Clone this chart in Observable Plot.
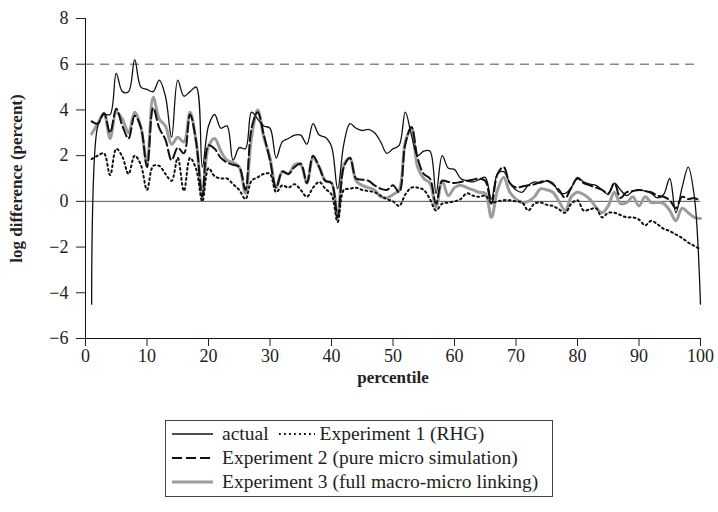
<!DOCTYPE html>
<html>
<head>
<meta charset="utf-8">
<script src="https://cdn.jsdelivr.net/npm/d3@7"></script>
<script src="https://cdn.jsdelivr.net/npm/@observablehq/plot@0.6"></script>
<style>
  html, body { margin: 0; padding: 0; background: #fff; }
  #wrap { position: relative; width: 718px; height: 512px; font-family: "Liberation Serif", "DejaVu Serif", serif; color: #222; }
  #chart svg { display: block; }
  g[aria-label="x-axis label"] text, g[aria-label="y-axis label"] text { font-weight: bold; font-size: 17px; }
  #legend { position: absolute; left: 165px; top: 420px; width: 388px; height: 77px; border: 1px solid #444; box-sizing: border-box; font-size: 19.5px; }
  .row { position: absolute; left: 0; height: 24px; display: flex; align-items: center; white-space: nowrap; }
  .row svg { display: block; }
</style>
</head>
<body>
<div id="wrap">
  <div id="chart"></div>
  <div id="legend"></div>
</div>
<script>
const percentiles = d3.range(1, 101);

const actual = [
  -4.5, 3.3, 3.8, 3.8, 5.6, 4.8, 4.8, 6.2, 5.0, 4.9,
  4.8, 5.3, 4.6, 2.8, 5.3, 4.6, 4.8, 5.0, 1.5, 3.3,
  3.8, 3.2, 3.3, 1.8, 2.35, 2.3, 3.9, 3.6, 3.3, 3.2,
  1.9, 2.6, 2.75, 2.9, 2.9, 2.5, 3.4, 2.9, 2.8, 2.4,
  0.55, 2.5, 3.4, 3.2, 3.1, 3.15, 3.0, 2.6, 2.1, 2.3,
  2.45, 3.9, 2.9, 2.0, 2.2, 2.2, 0.35, 2.0, 1.45, 1.4,
  1.0, 0.9, 0.85, 0.95, 1.05, 0.1, 1.2, 1.3, 0.8, 0.5,
  0.4, 0.7, 0.85, 0.8, 0.9, 0.8, 0.4, 0.35, 0.6, 1.05,
  0.85, 0.75, 0.7, 0.5, 0.3, 0.8, 0.5, 0.25, 0.45, 0.5,
  0.45, 0.35, 0.15, 0.3, 1.0, -0.5, 0.6, 1.5, 0.2, -4.5
];

const exp1 = [
  1.85, 2.0, 2.1, 1.15, 2.3, 1.95, 1.2, 2.0, 1.6, 0.5,
  1.55, 1.55, 1.2, 0.9, 1.9, 0.45, 1.9, 1.4, 0.0, 1.45,
  1.1, 1.0, 1.0, 0.75, 0.5, 0.1, 0.9, 1.05, 1.2, 1.2,
  0.4, 0.7, 0.6, 0.75, 0.5, 0.2, 0.6, 0.85, 0.55, 0.3,
  -0.9, 0.5, 0.55, 0.6, 0.5, 0.45, 0.4, 0.25, 0.1, 0.0,
  -0.2, 0.3, 0.6, 0.6, 0.5, 0.1, -0.4, -0.1, -0.05, 0.0,
  0.1, 0.35, 0.25, 0.2, 0.25, -0.05, 0.0, 0.05, 0.05, 0.0,
  -0.05, -0.4, -0.1, -0.05, -0.15, -0.2, -0.35, -0.5, -0.1, 0.05,
  -0.4, -0.35, -0.3, -0.7, -0.5, -0.5, -0.6, -0.7, -0.7, -0.8,
  -1.05, -0.85, -1.0, -1.2, -1.3, -1.45, -1.6, -1.8, -1.95, -2.1
];

const exp2 = [
  3.5, 3.4, 3.85, 3.0, 4.05, 3.3, 2.75, 3.75, 3.25, 1.5,
  4.1, 3.2, 2.7, 1.8, 2.35, 2.1, 3.8, 2.6, 0.2, 2.45,
  2.3, 1.9, 1.7, 1.6, 1.5, 0.5, 3.2, 3.9, 2.9, 1.8,
  0.6, 1.3, 1.2, 1.5, 1.65, 0.8, 2.0, 1.5, 0.9, 0.8,
  -0.7, 1.5, 1.9, 1.0, 0.95, 0.9, 0.7, 0.55, 0.5, 0.7,
  0.4, 2.5, 3.25, 1.9, 1.2, 1.0, -0.1, 0.9, 0.85, 0.8,
  0.85, 0.9, 0.95, 1.0, 0.9, -0.1, 1.2, 1.5, 0.8, 0.6,
  0.65, 0.7, 0.75, 0.85, 0.9, 0.75, 0.5, 0.15, 0.6, 1.0,
  0.8, 0.7, 0.6, 0.5, 0.35, 0.8, 0.15, 0.4, 0.45, 0.5,
  0.45, 0.4, 0.25, 0.2, 0.05, -0.3, 0.2, 0.1, 0.15, 0.0
];

const exp3 = [
  2.95, 3.4, 3.85, 2.75, 3.9, 3.6, 3.0, 3.9, 3.25, 1.65,
  4.55, 3.6, 3.3, 2.5, 2.8, 2.6, 3.9, 2.6, 0.35, 2.4,
  2.75, 2.2, 1.8, 1.7, 1.5, 0.35, 2.8, 4.0, 2.8, 1.9,
  0.6, 1.3, 1.2, 1.6, 1.6, 0.8, 1.9, 1.5, 0.9, 0.8,
  -0.7, 1.6, 1.9, 0.9, 0.7, 0.6, 0.5, 0.2, 0.15, 0.3,
  0.5, 2.6, 3.2, 1.5, 1.0, 0.8, -0.25, 0.9, 0.25, 0.6,
  0.7, 0.6, 0.5, 0.4, 0.35, -0.7, 0.5, 1.05, 0.4, 0.1,
  -0.05, 0.0, 0.2, 0.55, 0.5, 0.4, 0.0, -0.4, 0.2, 0.4,
  0.3, 0.1, -0.25, -0.5, -0.2, 0.4, -0.1, -0.05, 0.2, -0.2,
  0.2, -0.05, -0.05, -0.1, -0.4, -0.85, -0.3, -0.5, -0.7, -0.75
];

const seriesNames = [
  "actual",
  "Experiment 1 (RHG)",
  "Experiment 2 (pure micro simulation)",
  "Experiment 3 (full macro-micro linking)"
];
const xTicks = [0, 10, 20, 30, 40, 50, 60, 70, 80, 90, 100];
const yTicks = [-6, -4, -2, 0, 2, 4, 6, 8];
const refLevel = 6;

const styles = {
  "actual": {stroke: "#111", strokeWidth: 1.3},
  "Experiment 1 (RHG)": {stroke: "#111", strokeWidth: 2, strokeDasharray: "1.8,3.2"},
  "Experiment 2 (pure micro simulation)": {stroke: "#111", strokeWidth: 2, strokeDasharray: "10,4"},
  "Experiment 3 (full macro-micro linking)": {stroke: "#9c9c9c", strokeWidth: 3}
};

const toRows = (arr) => percentiles.map((p, i) => ({p, v: arr[i]}));
const seriesData = {
  "actual": toRows(actual),
  "Experiment 1 (RHG)": toRows(exp1),
  "Experiment 2 (pure micro simulation)": toRows(exp2),
  "Experiment 3 (full macro-micro linking)": toRows(exp3)
};

const drawOrder = [seriesNames[3], seriesNames[1], seriesNames[2], seriesNames[0]];

const chart = Plot.plot({
  width: 718,
  height: 400,
  marginTop: 18,
  marginLeft: 85,
  marginRight: 18,
  marginBottom: 62,
  style: {fontFamily: "Liberation Serif, DejaVu Serif, serif", fontSize: "18px", color: "#222", background: "#fff"},
  x: {domain: [0, 100]},
  y: {domain: [-6, 8]},
  marks: [
    Plot.ruleY([refLevel], {stroke: "#888", strokeWidth: 1.6, strokeDasharray: "9,6"}),
    Plot.ruleY([0], {stroke: "#555", strokeWidth: 1}),
    ...drawOrder.map(name => Plot.lineY(seriesData[name], {
      x: "p", y: "v", curve: "catmull-rom", ...styles[name]
    })),
    Plot.ruleX([0], {stroke: "#111", strokeWidth: 1}),
    Plot.ruleY([-6], {stroke: "#111", strokeWidth: 1}),
    Plot.axisX({ticks: xTicks, tickSize: 8, tickPadding: 3, fontSize: 18, label: "percentile", labelAnchor: "center", labelArrow: "none", labelOffset: 44}),
    Plot.axisY({ticks: yTicks, tickSize: 9, tickPadding: 8, fontSize: 18, label: "log difference (percent)", labelAnchor: "center", labelArrow: "none", labelOffset: 76})
  ]
});
document.getElementById("chart").appendChild(chart);

// Legend
const legend = document.getElementById("legend");
function sample(name, w) {
  const s = styles[name];
  const ns = "http://www.w3.org/2000/svg";
  const svg = document.createElementNS(ns, "svg");
  svg.setAttribute("width", w);
  svg.setAttribute("height", 10);
  const l = document.createElementNS(ns, "line");
  l.setAttribute("x1", 0); l.setAttribute("x2", w);
  l.setAttribute("y1", 5); l.setAttribute("y2", 5);
  l.setAttribute("stroke", s.stroke);
  l.setAttribute("stroke-width", s.strokeWidth);
  if (s.strokeDasharray) l.setAttribute("stroke-dasharray", s.strokeDasharray);
  svg.appendChild(l);
  return svg;
}
function addItem(row, name, w, gap, after) {
  const sv = sample(name, w);
  sv.style.marginRight = gap + "px";
  row.appendChild(sv);
  const t = document.createElement("span");
  t.textContent = name;
  t.style.marginRight = after + "px";
  row.appendChild(t);
}
const rowTops = [1, 25, 49];
const r1 = document.createElement("div"); r1.className = "row"; r1.style.top = rowTops[0] + "px"; r1.style.left = "6px";
addItem(r1, seriesNames[0], 41, 9, 10);
addItem(r1, seriesNames[1], 36, 5, 0);
legend.appendChild(r1);
for (let k = 2; k <= 3; k++) {
  const r = document.createElement("div"); r.className = "row"; r.style.top = rowTops[k - 1] + "px"; r.style.left = "6px";
  addItem(r, seriesNames[k], 41, 9, 0);
  legend.appendChild(r);
}
</script>
</body>
</html>
